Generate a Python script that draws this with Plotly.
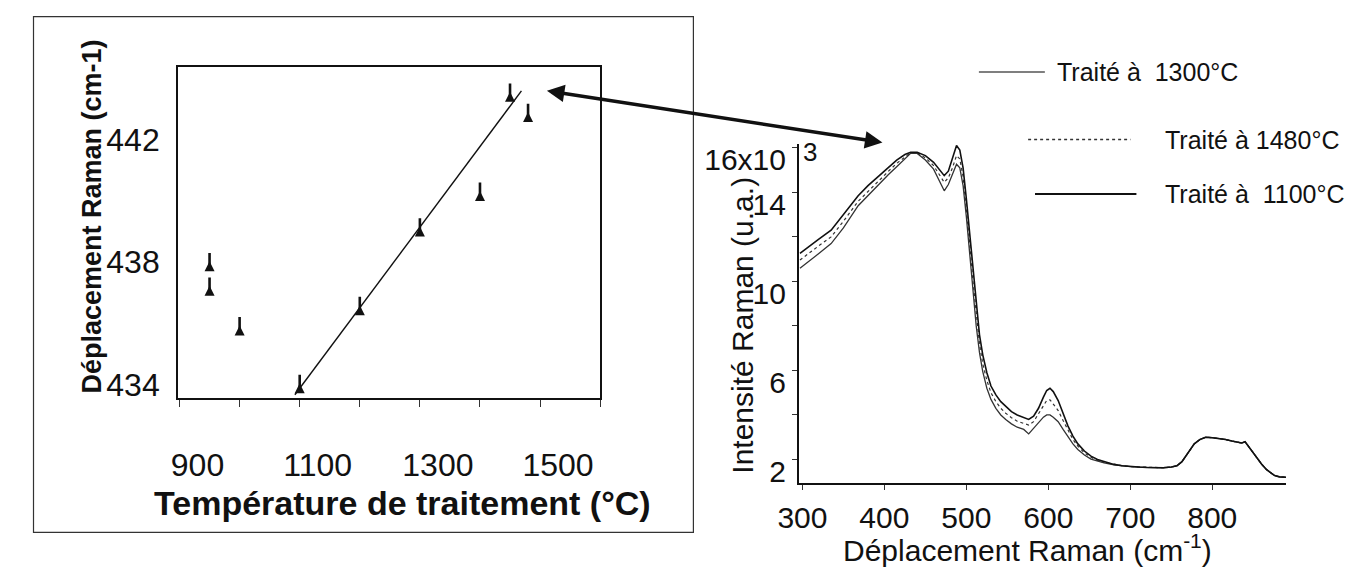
import plotly.graph_objects as go

W, H = 1353, 570


def px(x):
    return x / W


def py(y):
    return 1 - y / H


FONT = "Liberation Sans, Arial, Helvetica, sans-serif"

# ---------------- Left panel data ----------------
temp_c = [950, 950, 1000, 1100, 1200, 1300, 1400, 1450, 1480]
shift_cm = [438.03, 437.23, 435.94, 434.06, 436.6, 439.16, 440.32, 443.55, 442.89]
fit_temp = [1092, 1469]
fit_shift = [433.68, 443.58]
left_xtickvals = [900, 1000, 1100, 1200, 1300, 1400, 1500, 1600]
left_xticktext = ["900", "", "1100", "", "1300", "", "1500", ""]
left_ytickvals = [434, 438, 442]

# ---------------- Right panel data ----------------
raman_x = [297, 310, 320, 335, 350, 368, 380, 395, 405, 415, 425, 432, 440, 450, 460,
           467, 473, 478, 483, 488, 492, 496, 500, 504, 508, 512, 516, 520, 525, 530,
           536, 542, 548, 555, 562, 570, 576, 582, 588, 594, 598, 602, 606, 612, 618,
           624, 630, 636, 644, 652, 660, 668, 680, 690, 700, 710, 720, 730, 740, 750,
           757, 763, 768, 773, 778, 785, 792, 800, 808, 816, 824, 830, 836, 840, 844,
           848, 854, 860, 866, 870, 876, 882, 890]

int_1100 = [11.26, 11.6, 11.9, 12.3, 13.0, 13.85, 14.3, 14.8, 15.15, 15.45, 15.7, 15.8, 15.8, 15.65, 15.35,
            15.05, 14.75, 14.95, 15.5, 16.1, 15.9, 15.1, 13.7, 12.2, 10.5, 9.0, 7.6, 6.7, 5.9, 5.3,
            4.9, 4.6, 4.37, 4.15, 4.0, 3.88, 3.8, 3.95, 4.3, 4.8, 5.1, 5.2, 5.05, 4.65, 4.05,
            3.5, 3.05, 2.7, 2.38, 2.15, 2.0, 1.9, 1.78, 1.72, 1.68, 1.66, 1.64, 1.63, 1.63, 1.66,
            1.72, 1.9, 2.15, 2.45, 2.7, 2.9, 3.0, 2.98, 2.95, 2.9, 2.83, 2.78, 2.74, 2.8, 2.6,
            2.35, 2.1, 1.8, 1.55, 1.45, 1.28, 1.22, 1.2]

int_1480 = [10.96, 11.3, 11.6, 12.0, 12.7, 13.6, 14.05, 14.6, 14.95, 15.3, 15.6, 15.78, 15.78, 15.55, 15.2,
            14.8, 14.45, 14.65, 15.1, 15.65, 15.5, 14.7, 13.3, 11.7, 10.0, 8.5, 7.2, 6.3, 5.55, 5.0,
            4.6, 4.3, 4.08, 3.88, 3.72, 3.62, 3.55, 3.7, 4.05, 4.45, 4.65, 4.68, 4.5, 4.2, 3.75,
            3.3, 2.9, 2.6, 2.3, 2.1, 1.96, 1.87, 1.77, 1.72, 1.68, 1.66, 1.64, 1.63, 1.63, 1.66,
            1.72, 1.9, 2.15, 2.45, 2.7, 2.9, 3.0, 2.98, 2.95, 2.9, 2.83, 2.78, 2.74, 2.8, 2.6,
            2.35, 2.1, 1.8, 1.55, 1.45, 1.28, 1.22, 1.2]

int_1300 = [10.59, 10.95, 11.25, 11.7, 12.4, 13.4, 13.85, 14.45, 14.8, 15.15, 15.5, 15.75, 15.75, 15.45, 15.04,
            14.55, 14.07, 14.35, 14.8, 15.26, 15.1, 14.3, 12.9, 11.2, 9.5, 8.0, 6.8, 5.95, 5.2, 4.7,
            4.3, 4.0, 3.8, 3.6, 3.45, 3.35, 3.15, 3.4, 3.65, 3.9, 4.0, 4.0, 3.9, 3.7, 3.35,
            3.0, 2.7, 2.45, 2.2, 2.02, 1.92, 1.85, 1.76, 1.71, 1.68, 1.66, 1.64, 1.63, 1.63, 1.66,
            1.72, 1.9, 2.15, 2.45, 2.7, 2.9, 3.0, 2.98, 2.95, 2.9, 2.83, 2.78, 2.74, 2.8, 2.6,
            2.35, 2.1, 1.8, 1.55, 1.45, 1.28, 1.22, 1.2]

right_xtickvals = [300, 400, 500, 600, 700, 800]
right_ytickvals = [2, 4, 6, 8, 10, 12, 14, 16]
right_yticktext = ["2", "", "6", "", "10", "", "14", "16x10"]

legend_labels = ["Traité à\u00a0\u00a01300°C", "Traité à 1480°C", "Traité à\u00a0\u00a01100°C"]

fig = go.Figure()

# Left panel traces
fig.add_trace(go.Scatter(x=fit_temp, y=fit_shift, mode="lines",
                         line=dict(color="#111", width=1.4),
                         xaxis="x", yaxis="y", showlegend=False, hoverinfo="skip"))
fig.add_trace(go.Scatter(x=temp_c, y=shift_cm, mode="markers",
                         marker=dict(symbol="line-ns", size=12, line=dict(color="#111", width=2.6)),
                         xaxis="x", yaxis="y", showlegend=False))
fig.add_trace(go.Scatter(x=temp_c, y=shift_cm, mode="markers",
                         marker=dict(symbol="arrow-up", size=10, color="#111", line=dict(width=0)),
                         xaxis="x", yaxis="y", showlegend=False))

# Right panel traces
fig.add_trace(go.Scatter(x=raman_x, y=int_1300, mode="lines", name=legend_labels[0],
                         line=dict(color="#333", width=1.3),
                         xaxis="x2", yaxis="y2", showlegend=False))
fig.add_trace(go.Scatter(x=raman_x, y=int_1480, mode="lines", name=legend_labels[1],
                         line=dict(color="#333", width=1.2, dash="dot"),
                         xaxis="x2", yaxis="y2", showlegend=False))
fig.add_trace(go.Scatter(x=raman_x, y=int_1100, mode="lines", name=legend_labels[2],
                         line=dict(color="#111", width=1.6),
                         xaxis="x2", yaxis="y2", showlegend=False))

fig.update_layout(
    width=W, height=H,
    margin=dict(l=0, r=0, t=0, b=0),
    paper_bgcolor="white", plot_bgcolor="white",
    font=dict(family=FONT, color="#111"),
    showlegend=False,
    xaxis=dict(domain=[px(159.3), px(588.3)], range=[897.2, 1600],
               tickvals=left_xtickvals, ticktext=left_xticktext,
               ticks="outside", ticklen=7, tickwidth=1, tickcolor="#333",
               showline=True, mirror=True, linecolor="#111", linewidth=1.5,
               showgrid=False, zeroline=False,
               tickfont=dict(size=32, family=FONT, color="#111"),
               ticklabelshift=18, ticklabelstandoff=30, anchor="y"),
    yaxis=dict(domain=[py(401.7), py(66.7)], range=[433.56, 444.36],
               tickvals=left_ytickvals, ticks="",
               showline=True, mirror=True, linecolor="#111", linewidth=1.5,
               showgrid=False, zeroline=False,
               tickfont=dict(size=32, family=FONT, color="#111"),
               ticklabelstandoff=10, anchor="x"),
    xaxis2=dict(domain=[px(790), px(1285)], range=[295.5, 890],
                tickvals=right_xtickvals,
                ticks="outside", ticklen=5, tickwidth=1, tickcolor="#333",
                showline=True, mirror=False, linecolor="#111", linewidth=1.5,
                showgrid=False, zeroline=False,
                tickfont=dict(size=30, family=FONT, color="#111"),
                ticklabelstandoff=2, anchor="y2"),
    yaxis2=dict(domain=[py(487), py(145)], range=[0.95, 16.15],
                tickvals=right_ytickvals, ticktext=right_yticktext,
                ticks="outside", ticklen=5, tickwidth=1, tickcolor="#333",
                showline=True, mirror=False, linecolor="#111", linewidth=1.5,
                showgrid=False, zeroline=False,
                tickfont=dict(size=30, family=FONT, color="#111"),
                ticklabelshift=12, anchor="x2"),
)

annotations = [
    # left titles
    dict(text="<b>Température de traitement (°C)</b>", x=px(387.5), y=py(507),
         font=dict(size=34, family=FONT, color="#111")),
    dict(text="<b>Déplacement Raman (cm-1)</b>", x=px(72), y=py(218), textangle=-90,
         font=dict(size=27, family=FONT, color="#111")),
    # right titles
    dict(text="Déplacement Raman (cm<sup>-1</sup>)", x=px(1022.5), y=py(553),
         font=dict(size=30, family=FONT, color="#111")),
    dict(text="Intensité Raman (u.a.)", x=px(732.5), y=py(328), textangle=-90,
         font=dict(size=30, family=FONT, color="#111")),
    dict(text="3", x=px(801.5), y=py(153), font=dict(size=26, family=FONT, color="#111")),
    # legend texts
    dict(text=legend_labels[0], x=px(1050), y=py(71.7), xanchor="left",
         font=dict(size=25, family=FONT, color="#111")),
    dict(text=legend_labels[1], x=px(1160), y=py(140), xanchor="left",
         font=dict(size=25, family=FONT, color="#111")),
    dict(text=legend_labels[2], x=px(1160), y=py(195), xanchor="left",
         font=dict(size=25, family=FONT, color="#111")),
]
for a in annotations:
    a.setdefault("xanchor", "center")
    a.setdefault("yanchor", "middle")
    a.update(xref="paper", yref="paper", showarrow=False)

# double-headed arrow linking the two panels
annotations.append(dict(text="", x=px(875), y=py(143), xref="paper", yref="paper",
                        ax=538 - 875, ay=91 - 143, axref="pixel", ayref="pixel",
                        showarrow=True, arrowhead=2, startarrowhead=2,
                        arrowside="end+start", arrowsize=1, startarrowsize=1,
                        arrowwidth=3.5, arrowcolor="#111"))
fig.update_layout(annotations=annotations)

shapes = [
    dict(type="rect", xref="paper", yref="paper", x0=px(12.7), x1=px(683), y0=py(537), y1=py(15.7),
         line=dict(color="#333", width=1.2)),
    dict(type="line", xref="paper", yref="paper", x0=px(973), x1=px(1040), y0=py(71.7), y1=py(71.7),
         line=dict(color="#555", width=1.5)),
    dict(type="line", xref="paper", yref="paper", x0=px(1023), x1=px(1127), y0=py(140), y1=py(140),
         line=dict(color="#333", width=1.5, dash="dot")),
    dict(type="line", xref="paper", yref="paper", x0=px(1030), x1=px(1133), y0=py(195), y1=py(195),
         line=dict(color="#111", width=2)),
]
fig.update_layout(shapes=shapes)

fig.write_html("out.html",
               config={"displayModeBar": False},
               post_script="document.body.style.margin='0';document.body.style.overflow='hidden';")
